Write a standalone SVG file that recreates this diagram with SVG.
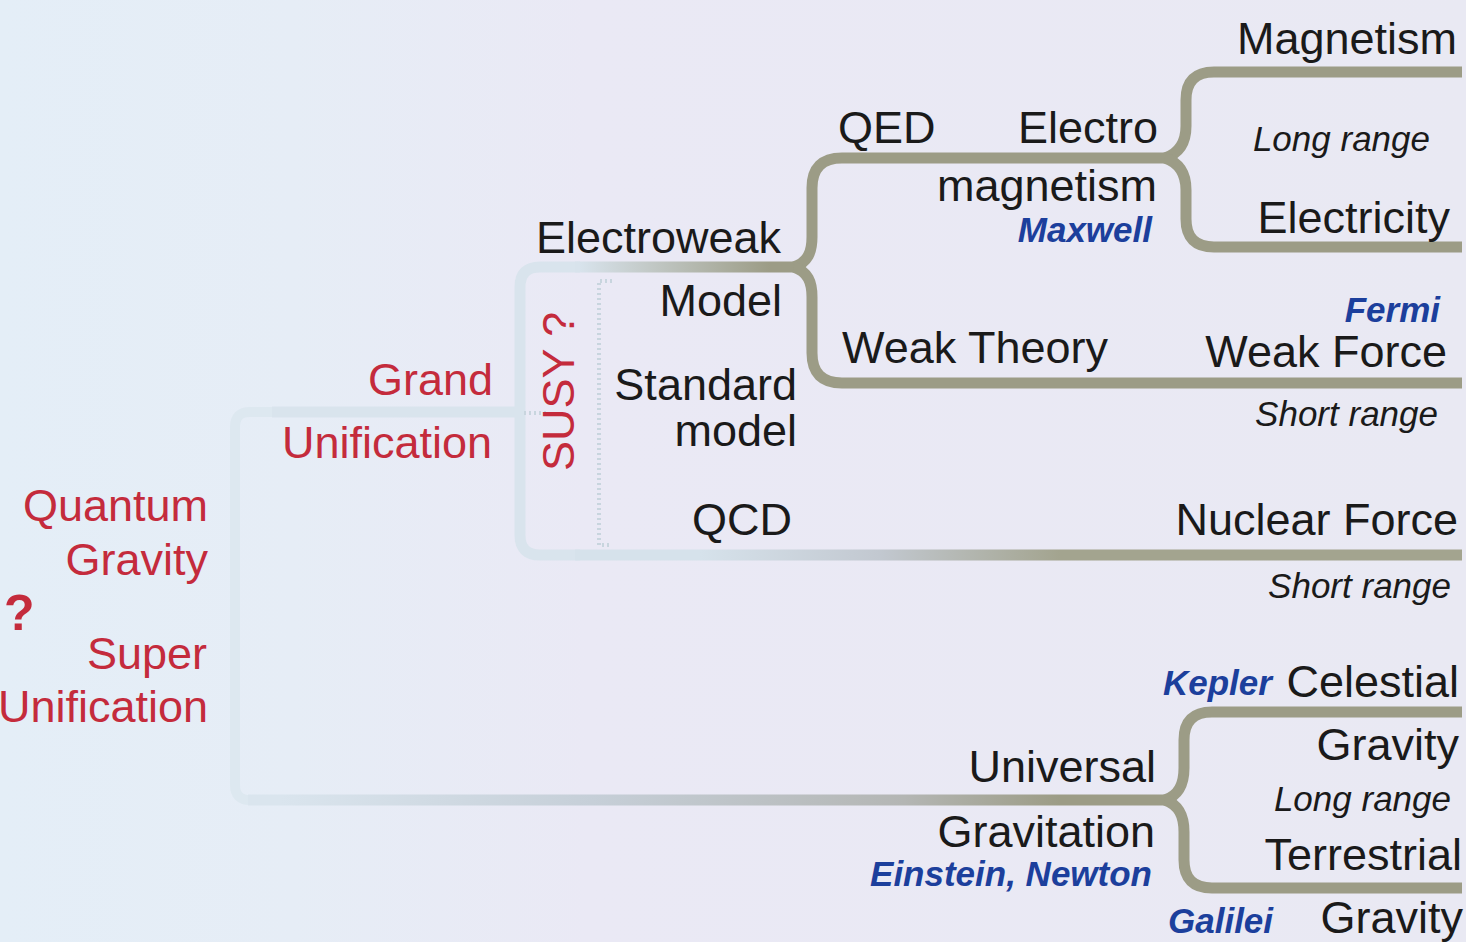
<svg xmlns="http://www.w3.org/2000/svg" width="1466" height="942" viewBox="0 0 1466 942">
<defs>
<linearGradient id="bg" x1="0" y1="0" x2="1466" y2="0" gradientUnits="userSpaceOnUse">
<stop offset="0" stop-color="#e4eef7"/>
<stop offset="0.2" stop-color="#e6edf6"/>
<stop offset="0.4" stop-color="#eae9f5"/>
<stop offset="1" stop-color="#e9e9f3"/>
</linearGradient>
<linearGradient id="gEW" x1="580" y1="0" x2="770" y2="0" gradientUnits="userSpaceOnUse">
<stop offset="0" stop-color="#d8e3ec"/>
<stop offset="1" stop-color="#9c9c86"/>
</linearGradient>
<linearGradient id="gQCD" x1="700" y1="0" x2="1060" y2="0" gradientUnits="userSpaceOnUse">
<stop offset="0" stop-color="#d6e2eb"/>
<stop offset="0.5" stop-color="#c2c8d0"/>
<stop offset="1" stop-color="#a3a48f"/>
</linearGradient>
<linearGradient id="gGrav" x1="280" y1="0" x2="1060" y2="0" gradientUnits="userSpaceOnUse">
<stop offset="0" stop-color="#dae5ee"/>
<stop offset="0.4" stop-color="#c6cfd8"/>
<stop offset="0.8" stop-color="#b4b6b4"/>
<stop offset="1" stop-color="#9c9c86"/>
</linearGradient>
<style>
.br{fill:none;stroke:#9c9c86;stroke-width:11;stroke-linecap:butt;stroke-linejoin:round}
.faint{fill:none;stroke:#d9e4ed;stroke-width:11}
.vfaint{fill:none;stroke:#dde8f0;stroke-width:10}
.dot{fill:none;stroke:#c8d5de;stroke-width:4;stroke-dasharray:2 3}
text{font-family:"Liberation Sans",Arial,Helvetica,sans-serif}
.t{font-size:45px;fill:#1a1a1a}
.r{font-size:45px;fill:#c42b3c}
.i{font-size:35px;font-style:italic;fill:#1a1a1a}
.b{font-size:35px;font-style:italic;font-weight:bold;fill:#1c3f9c}
.e{text-anchor:end}
</style>
</defs>
<rect width="1466" height="942" fill="url(#bg)"/>

<g id="connectors">
<path class="vfaint" d="M 272 412 H 250 Q 235 412 235 427 V 785 Q 235 800 250 800"/>
<path class="faint" d="M 272 412 H 520"/>
<path class="faint" d="M 580 267 H 540 Q 520 267 520 287 V 535 Q 520 555 540 555 H 580"/>
<path class="dot" d="M 612 281 H 599 V 545 H 612"/>
<path class="dot" d="M 524 413 H 548"/>
<path fill="none" stroke="url(#gEW)" stroke-width="11" d="M 575 267 H 796"/>
<path fill="none" stroke="url(#gQCD)" stroke-width="11" d="M 575 555 H 1462"/>
<path fill="none" stroke="url(#gGrav)" stroke-width="11" d="M 248 800 H 1166"/>
<path class="br" d="M 794 267 C 808 262 812 252 812 237 V 188 Q 812 158 842 158 H 1166"/>
<path class="br" d="M 794 267 C 808 272 812 282 812 297 V 353 Q 812 383 842 383 H 1462"/>
<path class="br" d="M 1165 158 C 1180 153 1186 142 1186 126 V 100 Q 1186 72 1214 72 H 1462"/>
<path class="br" d="M 1165 158 C 1180 163 1186 174 1186 190 V 219 Q 1186 247 1214 247 H 1462"/>
<path class="br" d="M 1165 800 C 1179 795 1184 784 1184 768 V 740 Q 1184 712 1212 712 H 1462"/>
<path class="br" d="M 1165 800 C 1179 805 1184 816 1184 832 V 860 Q 1184 888 1212 888 H 1462"/>
</g>

<g id="node-magnetism"><text class="t e" x="1457" y="54">Magnetism</text></g>
<g id="node-em">
<text class="t" x="838" y="143">QED</text>
<text class="t e" x="1158" y="143">Electro</text>
<text class="t e" x="1157" y="201">magnetism</text>
<text class="b e" x="1152" y="242">Maxwell</text>
</g>
<g id="node-longrange1"><text class="i e" x="1430" y="151">Long range</text></g>
<g id="node-electricity"><text class="t e" x="1450" y="233">Electricity</text></g>
<g id="node-electroweak">
<text class="t e" x="781" y="253">Electroweak</text>
<text class="t e" x="782" y="316">Model</text>
</g>
<g id="node-weaktheory"><text class="t" x="842" y="363">Weak Theory</text></g>
<g id="node-weakforce">
<text class="b e" x="1440" y="322">Fermi</text>
<text class="t e" x="1447" y="367">Weak Force</text>
<text class="i e" x="1438" y="426">Short range</text>
</g>
<g id="node-standardmodel">
<text class="t e" x="797" y="400">Standard</text>
<text class="t e" x="797" y="446">model</text>
</g>
<g id="node-susy"><text class="r" transform="translate(574 471) rotate(-90)">SUSY ?</text></g>
<g id="node-grand">
<text class="r e" x="493" y="395">Grand</text>
<text class="r e" x="492" y="458">Unification</text>
</g>
<g id="node-qcd"><text class="t e" x="792" y="535">QCD</text></g>
<g id="node-nuclear">
<text class="t e" x="1458" y="535">Nuclear Force</text>
<text class="i e" x="1451" y="598">Short range</text>
</g>
<g id="node-quantum">
<text class="r e" x="208" y="521">Quantum</text>
<text class="r e" x="208" y="575">Gravity</text>
<text x="4" y="630" style="font-size:50px;font-weight:bold;fill:#c42b3c">?</text>
<text class="r e" x="207" y="669">Super</text>
<text class="r e" x="208" y="722">Unification</text>
</g>
<g id="node-celestial">
<text class="b" x="1163" y="695">Kepler</text>
<text class="t e" x="1459" y="697">Celestial</text>
<text class="t e" x="1459" y="760">Gravity</text>
</g>
<g id="node-longrange2"><text class="i e" x="1451" y="811">Long range</text></g>
<g id="node-universal">
<text class="t e" x="1156" y="782">Universal</text>
<text class="t e" x="1155" y="847">Gravitation</text>
<text class="b e" x="1152" y="886">Einstein, Newton</text>
</g>
<g id="node-terrestrial">
<text class="t e" x="1462" y="870">Terrestrial</text>
<text class="b" x="1168" y="933">Galilei</text>
<text class="t e" x="1463" y="933">Gravity</text>
</g>
</svg>
